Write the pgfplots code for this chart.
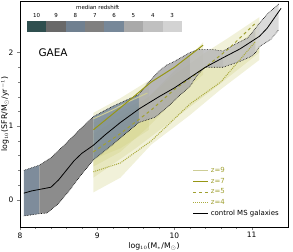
\documentclass[border=0pt]{standalone}
\usepackage{pgfplots}
\pgfplotsset{compat=1.18}
\usepackage{fontspec}
\setmainfont{DejaVu Sans}
\definecolor{dslate}{HTML}{2F4F4F}
\definecolor{dimg}{HTML}{696969}
\definecolor{slateg}{HTML}{708090}
\definecolor{grayc}{HTML}{808080}
\definecolor{lslate}{HTML}{778899}
\definecolor{dgray}{HTML}{A9A9A9}
\definecolor{midg}{HTML}{B8B8B8}
\definecolor{silverc}{HTML}{C0C0C0}
\definecolor{lgray}{HTML}{D3D3D3}
\definecolor{yband}{RGB}{205,205,120}
\definecolor{cz9}{RGB}{205,205,150}
\definecolor{cz7}{RGB}{150,150,20}
\definecolor{cz5}{RGB}{160,160,50}
\definecolor{cz4}{RGB}{170,170,60}
\begin{document}
\begin{tikzpicture}
\begin{axis}[
  scale only axis, width=268bp, height=226bp,
  xmin=8, xmax=11.47, ymin=-0.37, ymax=2.7,
  axis line style={line width=0.5pt},
  xtick={8,9,10,11}, ytick={0,1,2},
  minor x tick num=4, minor y tick num=4,
  tick align=outside, tick pos=left,
  major tick length=3bp, minor tick length=1.5bp,
  tick label style={font=\fontsize{7.5}{8}\selectfont},
  xticklabel style={yshift=1bp},
  /pgf/number format/assume math mode=true,
  xlabel={log$_{10}$(M$_*$/M$_\odot$)},
  ylabel={log$_{10}$(SFR/M$_\odot$/yr$^{-1}$)},
  label style={font=\fontsize{7.8}{9}\selectfont},
  xlabel style={at={(axis description cs:0.5,-0.085)}, anchor=center},
  ylabel style={at={(axis description cs:-0.056,0.5)}, anchor=center},
  legend style={draw=none, fill=none, at={(0.985,0.025)}, anchor=south east,
    font=\fontsize{7}{8}\selectfont, row sep=0.2pt},
  legend cell align=left,
  legend image code/.code={\draw[#1] (0bp,0bp) -- (15bp,0bp);},
]
% yellow bands
\addplot[draw=none, fill=yband, fill opacity=0.28, forget plot] coordinates {
(8.95,1.18) (9.3,1.38) (9.67,1.62) (9.67,0.95) (9.3,0.7) (8.95,0.55)} -- cycle;
\addplot[draw=none, fill=yband, fill opacity=0.28, forget plot] coordinates {
(8.95,1.05) (9.3,1.2) (9.67,1.4) (10.0,1.75) (10.37,2.14) (10.37,1.7) (10.0,1.35) (9.67,1.0) (9.3,0.65) (8.95,0.45)} -- cycle;
\addplot[draw=none, fill=yband, fill opacity=0.28, forget plot] coordinates {
(8.95,0.9) (9.5,1.25) (10.0,1.7) (10.37,1.98) (10.7,2.2) (11.1,2.48) (11.1,2.0) (10.5,1.5) (10.0,1.1) (9.5,0.7) (8.95,0.3)} -- cycle;
\addplot[draw=none, fill=yband, fill opacity=0.28, forget plot] coordinates {
(8.95,0.7) (9.5,1.0) (10.0,1.5) (10.5,1.85) (11.1,2.35) (11.1,1.9) (10.6,1.5) (10.2,1.15) (9.7,0.75) (9.3,0.3) (8.95,0.1)} -- cycle;
% gray band segments
\addplot[draw=none, fill=slateg, fill opacity=0.9, forget plot] coordinates {
(8.05,0.40) (8.25,0.47) (8.25,-0.19) (8.05,-0.22)} -- cycle;
\addplot[draw=none, fill=grayc, fill opacity=0.9, forget plot] coordinates {
(8.25,0.47) (8.4,0.57) (8.6,0.77) (8.8,0.98) (8.95,1.13) (8.95,0.54) (8.8,0.35) (8.65,0.14) (8.5,-0.05) (8.35,-0.18) (8.25,-0.19)} -- cycle;
\addplot[draw=none, fill=lslate, fill opacity=0.85, forget plot] coordinates {
(8.95,1.13) (9.2,1.27) (9.54,1.43) (9.54,1.05) (9.2,0.75) (8.95,0.54)} -- cycle;
\addplot[draw=none, fill=dgray, fill opacity=0.85, forget plot] coordinates {
(9.54,1.43) (9.65,1.58) (9.8,1.75) (9.9,1.83) (10.0,1.88) (10.2,2.00) (10.2,1.54) (10.05,1.40) (9.9,1.25) (9.75,1.12) (9.54,1.05)} -- cycle;
\addplot[draw=none, fill=midg, fill opacity=0.85, forget plot] coordinates {
(10.2,2.0) (10.3,2.04) (10.5,2.04) (10.63,2.02) (10.63,1.80) (10.4,1.80) (10.3,1.70) (10.2,1.54)} -- cycle;
\addplot[draw=none, fill=silverc, fill opacity=0.85, forget plot] coordinates {
(10.63,2.02) (10.8,2.12) (10.95,2.2) (11.05,2.33) (11.05,2.0) (11.0,1.95) (10.85,1.88) (10.63,1.80)} -- cycle;
\addplot[draw=none, fill=lgray, fill opacity=0.85, forget plot] coordinates {
(11.05,2.33) (11.1,2.40) (11.2,2.52) (11.35,2.66) (11.35,2.31) (11.25,2.18) (11.1,2.08) (11.05,2.0)} -- cycle;
% dotted edges
\addplot[black, densely dotted, line width=0.6pt, forget plot] coordinates {
(8.05,0.40) (8.25,0.47) (8.4,0.57) (8.6,0.77) (8.8,0.98) (8.95,1.13) (9.2,1.27) (9.54,1.43) (9.65,1.58) (9.8,1.75) (9.9,1.83) (10.0,1.88) (10.2,2.00) (10.3,2.04) (10.5,2.04) (10.63,2.02) (10.8,2.12) (10.95,2.20) (11.05,2.33) (11.1,2.40) (11.2,2.52) (11.35,2.66)};
\addplot[black, densely dotted, line width=0.6pt, forget plot] coordinates {
(8.05,-0.22) (8.25,-0.19) (8.35,-0.18) (8.5,-0.05) (8.65,0.14) (8.8,0.35) (8.95,0.54) (9.2,0.75) (9.54,1.05) (9.75,1.12) (9.9,1.25) (10.05,1.40) (10.2,1.54) (10.3,1.70) (10.4,1.80) (10.63,1.80) (10.85,1.88) (11.0,1.95) (11.05,2.0) (11.1,2.08) (11.25,2.18) (11.35,2.31)};
% lines
\addplot[cz9, line width=1pt] coordinates {(8.95,1.1) (9.2,1.22) (9.4,1.33) (9.65,1.45)};
\addlegendentry{\textcolor{cz5}{z=9}}
\addplot[cz7, line width=1pt] coordinates {(8.95,0.95) (9.3,1.25) (9.7,1.6) (10.0,1.8) (10.37,2.1)};
\addlegendentry{\textcolor{cz5}{z=7}}
\addplot[cz5, line width=1pt, dashed] coordinates {(8.95,0.65) (9.3,0.9) (9.7,1.22) (10.0,1.5) (10.4,1.8) (10.7,2.05) (11.05,2.4)};
\addlegendentry{\textcolor{cz5}{z=5}}
\addplot[cz4, line width=1pt, densely dotted] coordinates {(8.95,0.38) (9.3,0.5) (9.7,0.8) (10.2,1.3) (10.6,1.6) (11.05,2.15)};
\addlegendentry{\textcolor{cz5}{z=4}}
\addplot[black, line width=0.8pt] coordinates {
(8.05,0.09) (8.15,0.12) (8.3,0.15) (8.4,0.17) (8.5,0.27) (8.6,0.40) (8.7,0.53) (8.8,0.63) (8.95,0.74) (9.1,0.88) (9.3,1.05) (9.55,1.24) (9.8,1.4) (10.0,1.52) (10.2,1.66) (10.4,1.80) (10.63,1.93) (10.85,2.05) (11.1,2.22) (11.2,2.33) (11.3,2.48) (11.38,2.60)};
\addlegendentry{control MS galaxies}
% colour key
\fill[dslate] (rel axis cs:0.026,0.863) rectangle (rel axis cs:0.0983,0.912);
\fill[dimg] (rel axis cs:0.0983,0.863) rectangle (rel axis cs:0.1705,0.912);
\fill[slateg] (rel axis cs:0.1705,0.863) rectangle (rel axis cs:0.2428,0.912);
\fill[grayc] (rel axis cs:0.2428,0.863) rectangle (rel axis cs:0.315,0.912);
\fill[lslate] (rel axis cs:0.315,0.863) rectangle (rel axis cs:0.3873,0.912);
\fill[dgray] (rel axis cs:0.3873,0.863) rectangle (rel axis cs:0.4595,0.912);
\fill[silverc] (rel axis cs:0.4595,0.863) rectangle (rel axis cs:0.5318,0.912);
\fill[lgray] (rel axis cs:0.5318,0.863) rectangle (rel axis cs:0.604,0.912);
\begin{scope}[font=\fontsize{5.5}{6}\selectfont]
\node at (rel axis cs:0.0621,0.935) {10};
\node at (rel axis cs:0.1344,0.935) {9};
\node at (rel axis cs:0.2066,0.935) {8};
\node at (rel axis cs:0.2789,0.935) {7};
\node at (rel axis cs:0.3511,0.935) {6};
\node at (rel axis cs:0.4234,0.935) {5};
\node at (rel axis cs:0.4956,0.935) {4};
\node at (rel axis cs:0.5679,0.935) {3};
\node at (rel axis cs:0.29,0.972) {median redshift};
\end{scope}
\node[anchor=west, font=\fontsize{10.5}{12}\selectfont] at (rel axis cs:0.056,0.77) {GAEA};
\end{axis}
\pgfresetboundingbox
\path ([xshift=-20bp,yshift=-25bp]current axis.south west) rectangle ([xshift=5bp,yshift=1bp]current axis.north east);
\end{tikzpicture}
\end{document}
